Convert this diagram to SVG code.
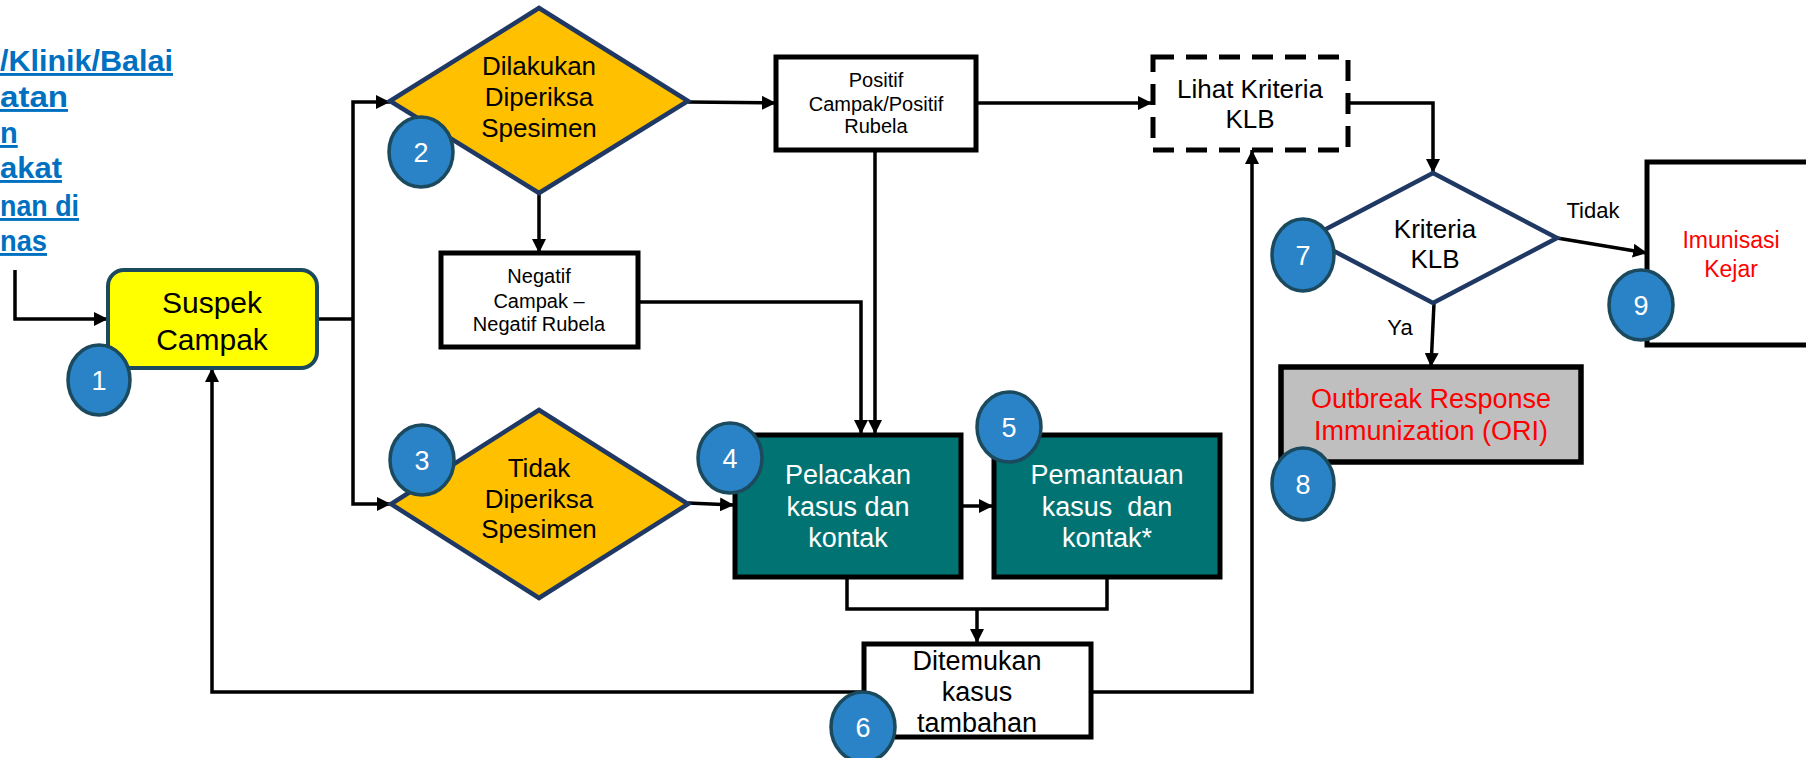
<svg xmlns="http://www.w3.org/2000/svg" width="1806" height="758" viewBox="0 0 1806 758">
<defs>
<marker id="ah" viewBox="0 0 14 14" refX="14" refY="7" markerWidth="14" markerHeight="14" markerUnits="userSpaceOnUse" orient="auto"><path d="M0,0 L14,7 L0,14 z" fill="#000"/></marker>
<style>
text{font-family:"Liberation Sans",Arial,sans-serif;text-anchor:middle;fill:#000}
.conn{fill:none;stroke:#000;stroke-width:3.5}
.arr{marker-end:url(#ah)}
.badge ellipse{fill:#2A83C6;stroke:#1B4A5E;stroke-width:3.5}
.badge text{fill:#fff;font-size:27px}
.box{fill:#fff;stroke:#000;stroke-width:5}
.dia{fill:#FFC000;stroke:#1F3864;stroke-width:4.5}
.teal{fill:#027373;stroke:#000;stroke-width:5}
.tw{fill:#fff;font-size:27px}
.dt{font-size:26px}
.src{font-weight:bold;font-size:29px;fill:#0070C0;text-anchor:start;text-decoration:underline}
.red{fill:#FF0000}
</style>
</defs>
<rect width="1806" height="758" fill="#fff"/>
<g id="source-text">
<text class="src" x="0" y="71" textLength="173" lengthAdjust="spacingAndGlyphs">/Klinik/Balai</text>
<text class="src" x="0" y="107" textLength="68" lengthAdjust="spacingAndGlyphs">atan</text>
<text class="src" x="0" y="143">n</text>
<text class="src" x="0" y="178" textLength="62" lengthAdjust="spacingAndGlyphs">akat</text>
<text class="src" x="0" y="216" textLength="79" lengthAdjust="spacingAndGlyphs">nan di</text>
<text class="src" x="0" y="251" textLength="47" lengthAdjust="spacingAndGlyphs">nas</text>
</g>
<g id="connectors">
<path class="conn arr" d="M15,270 V319 H108"/>
<path class="conn" d="M317,319 H353"/>
<path class="conn arr" d="M353,319 V102 H390"/>
<path class="conn arr" d="M353,319 V504 H391"/>
<path class="conn arr" d="M688,102 L776,103"/>
<path class="conn arr" d="M539,193 V253"/>
<path class="conn arr" d="M638,302 H861 V434"/>
<path class="conn arr" d="M875,150 V434"/>
<path class="conn arr" d="M688,503 L734,505"/>
<path class="conn arr" d="M961,506 H993"/>
<path class="conn" d="M847,577 V609 H1107 V577"/>
<path class="conn arr" d="M977,609 V643"/>
<path class="conn arr" d="M863,692 H212 V368"/>
<path class="conn arr" d="M1091,692 H1252 V150"/>
<path class="conn arr" d="M976,103 H1152"/>
<path class="conn arr" d="M1348,103 H1433 V173"/>
<path class="conn arr" d="M1557,238 L1647,253"/>
<path class="conn arr" d="M1434,303 L1431,367"/>
<text x="1593" y="218" font-size="22">Tidak</text>
<text x="1400" y="335" font-size="22">Ya</text>
</g>
<g id="node1">
<rect x="108" y="270" width="209" height="98" rx="16" fill="#FFFF00" stroke="#1B4A5E" stroke-width="4"/>
<text x="212" y="313" font-size="30">Suspek</text>
<text x="212" y="350" font-size="30">Campak</text>
<g class="badge"><ellipse cx="99" cy="380" rx="31" ry="35"/><text x="99" y="390">1</text></g>
</g>
<g id="node2">
<polygon class="dia" points="539,8 688,101 539,193 390,101"/>
<text class="dt" x="539" y="75">Dilakukan</text>
<text class="dt" x="539" y="106">Diperiksa</text>
<text class="dt" x="539" y="137">Spesimen</text>
<g class="badge"><ellipse cx="421" cy="152" rx="32" ry="35"/><text x="421" y="162">2</text></g>
</g>
<g id="node-positif">
<rect class="box" x="776" y="57" width="200" height="93"/>
<text x="876" y="87" font-size="20">Positif</text>
<text x="876" y="111" font-size="20">Campak/Positif</text>
<text x="876" y="133" font-size="20">Rubela</text>
</g>
<g id="node-negatif">
<rect class="box" x="441" y="253" width="197" height="94"/>
<text x="539" y="283" font-size="20">Negatif</text>
<text x="539" y="308" font-size="20">Campak –</text>
<text x="539" y="331" font-size="20">Negatif Rubela</text>
</g>
<g id="node3">
<polygon class="dia" points="539,410 688,504 539,598 391,504"/>
<text class="dt" x="539" y="477">Tidak</text>
<text class="dt" x="539" y="508">Diperiksa</text>
<text class="dt" x="539" y="538">Spesimen</text>
<g class="badge"><ellipse cx="422" cy="460" rx="32" ry="35"/><text x="422" y="470">3</text></g>
</g>
<g id="node4">
<rect class="teal" x="735" y="435" width="226" height="142"/>
<text class="tw" x="848" y="484">Pelacakan</text>
<text class="tw" x="848" y="516">kasus dan</text>
<text class="tw" x="848" y="547">kontak</text>
<g class="badge"><ellipse cx="730" cy="458" rx="32" ry="35"/><text x="730" y="468">4</text></g>
</g>
<g id="node5">
<rect class="teal" x="994" y="435" width="226" height="142"/>
<text class="tw" x="1107" y="484">Pemantauan</text>
<text class="tw" x="1107" y="516" xml:space="preserve">kasus  dan</text>
<text class="tw" x="1107" y="547">kontak*</text>
<g class="badge"><ellipse cx="1009" cy="427" rx="32" ry="35"/><text x="1009" y="437">5</text></g>
</g>
<g id="node6">
<rect class="box" x="864" y="644" width="227" height="93"/>
<text x="977" y="670" font-size="27">Ditemukan</text>
<text x="977" y="701" font-size="27">kasus</text>
<text x="977" y="732" font-size="27">tambahan</text>
<g class="badge"><ellipse cx="863" cy="727" rx="32" ry="35"/><text x="863" y="737">6</text></g>
</g>
<g id="node-lihat">
<rect x="1153" y="57" width="195" height="93" fill="#fff" stroke="#000" stroke-width="5" stroke-dasharray="21 12"/>
<text x="1250" y="98" font-size="26">Lihat Kriteria</text>
<text x="1250" y="128" font-size="26">KLB</text>
</g>
<g id="node7">
<polygon points="1433,173 1557,238 1433,303 1309,238" fill="#fff" stroke="#1F3864" stroke-width="4.5"/>
<text x="1435" y="238" font-size="26">Kriteria</text>
<text x="1435" y="268" font-size="26">KLB</text>
<g class="badge"><ellipse cx="1303" cy="255" rx="31" ry="36"/><text x="1303" y="265">7</text></g>
</g>
<g id="node8">
<rect x="1281" y="367" width="300" height="95" fill="#BFBFBF" stroke="#000" stroke-width="5.5"/>
<text class="red" x="1431" y="408" font-size="27">Outbreak Response</text>
<text class="red" x="1431" y="440" font-size="27">Immunization (ORI)</text>
<g class="badge"><ellipse cx="1303" cy="484" rx="31" ry="36"/><text x="1303" y="494">8</text></g>
</g>
<g id="node9">
<rect class="box" x="1647" y="162" width="200" height="183"/>
<text class="red" x="1731" y="248" font-size="23">Imunisasi</text>
<text class="red" x="1731" y="277" font-size="23">Kejar</text>
<g class="badge"><ellipse cx="1641" cy="305" rx="32" ry="35"/><text x="1641" y="315">9</text></g>
</g>
</svg>
